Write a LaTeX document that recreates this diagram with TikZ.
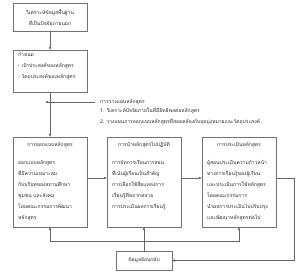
\documentclass[tikz,border=0pt]{standalone}
\usepackage{fontspec}
\newfontfamily\thaifont[Script=Thai]{Loma}
\usetikzlibrary{positioning,arrows.meta,calc}
\tikzset{
  stage/.style={rectangle,draw=black!55,line width=0.5pt,inner sep=0pt,outer sep=0pt,
    minimum width=74pt,align=center},
  txt/.style={inner sep=0pt,align=left,text=black!85},
  flow/.style={-{Latex[length=3pt,width=2.6pt]},draw=black!60,line width=0.5pt},
}
\begin{document}
\begin{tikzpicture}[x=1pt,y=-1pt,font=\thaifont\fontsize{5}{11}\selectfont,node distance=19pt and 20pt]
  \useasboundingbox (0,0) rectangle (300,272);
  \node[stage,minimum height=28pt,text=black!85] (ext) at (50,17) {วิเคราะห์ข้อมูลพื้นฐาน\\ที่เป็นปัจจัยภายนอก};
  \node[stage,minimum height=42pt,below=of ext] (goal) {};
  \node[txt,anchor=north west] (goaltxt) at ($(goal.north west)+(5,2)$) {กำหนด\\- เป้าประสงค์ของหลักสูตร\\- วัตถุประสงค์ของหลักสูตร};
  \node[stage,minimum height=90pt,below=45pt of goal] (design) {};
  \node[stage,minimum height=90pt,right=of design] (implement) {};
  \node[stage,minimum height=90pt,right=21pt of implement] (evaluate) {};
  \node[stage,minimum width=56pt,minimum height=19pt,text=black!85] (feed) at (144,260.5) {ข้อมูลย้อนกลับ};
  \node[txt,anchor=west] (plan) at (100,102) {การวางแผนหลักสูตร};
  \node[txt,anchor=north west] (planitems) at ($(plan.south west)+(0,2)$) {1. วิเคราะห์ปัจจัยภายในที่มีอิทธิพลต่อหลักสูตร\\2. วางแผนการออกแบบหลักสูตรที่สอดคล้องกับจุดมุ่งหมายและวัตถุประสงค์};
  \node[txt,anchor=north] (designhead) at ($(design.north)+(0,5)$) {การออกแบบหลักสูตร};
  \node[txt,anchor=north west] (designtxt) at ($(design.north west)+(5,23)$) {ออกแบบหลักสูตร\\ที่มีความเหมาะสม\\กับบริบทของสถานศึกษา\\ชุมชน และสังคม\\โดยคณะกรรมการพัฒนา\\หลักสูตร};
  \node[txt,anchor=north] (implhead) at ($(implement.north)+(0,5)$) {การนำหลักสูตรไปปฏิบัติ};
  \node[txt,anchor=north west] (impltxt) at ($(implement.north west)+(5,23)$) {การจัดการเรียนการสอน\\ที่เน้นผู้เรียนเป็นสำคัญ\\การเลือกใช้สื่อแหล่งการ\\เรียนรู้ที่หลากหลาย\\การประเมินผลการเรียนรู้};
  \node[txt,anchor=north] (evalhead) at ($(evaluate.north)+(0,5)$) {การประเมินหลักสูตร};
  \node[txt,anchor=north west] (evaltxt) at ($(evaluate.north west)+(5,23)$) {ผู้สอนประเมินความก้าวหน้า\\ทางการเรียนรู้ของผู้เรียน\\และประเมินการใช้หลักสูตร\\โดยคณะกรรมการ\\นำผลการประเมินไปปรับปรุง\\และพัฒนาหลักสูตรต่อไป};
  \coordinate (fork) at ($(feed.north)+(0,-10)$);
  \draw[flow] (ext)--(goal); \draw[flow] (goal)--(design);
  \draw[flow] ([xshift=-5pt]plan.west) -- ([xshift=-5pt]plan.west -| goal.south);
  \draw[flow] ([yshift=4pt]design.east) -- ([yshift=4pt]implement.west);
  \draw[flow] ([yshift=4pt]implement.east) -- ([yshift=4pt]evaluate.west);
  \draw[flow] (feed.north) -- (feed.north |- implement.south);
  \draw[flow] (fork) -| (design.south);
  \draw[flow] (fork) -| (evaluate.south);
  \draw[flow] ([yshift=4pt]evaluate.east) -- ++(18,0) |- (feed.east);
\end{tikzpicture}
\end{document}
